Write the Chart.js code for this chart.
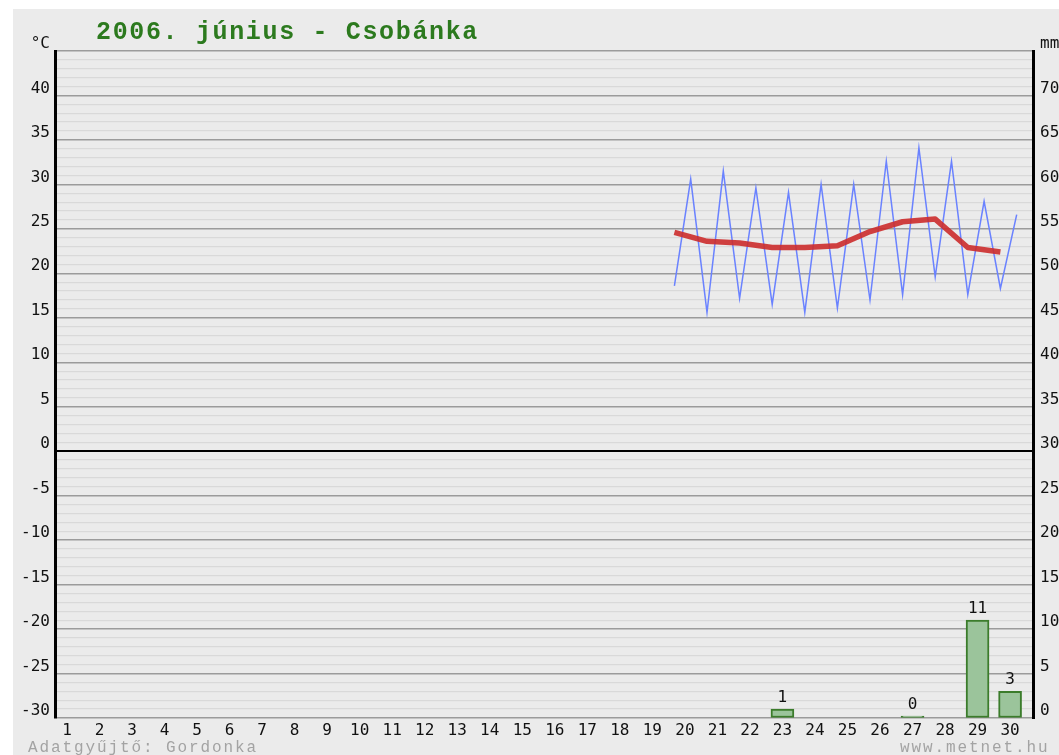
<!DOCTYPE html>
<html>
<head>
<meta charset="utf-8">
<title>2006. június - Csobánka</title>
<script src="https://cdn.jsdelivr.net/npm/chart.js@4/dist/chart.umd.min.js"></script>
<style>
  html, body { margin: 0; padding: 0; background: #fff; }
  canvas { display: block; }
</style>
</head>
<body>
<canvas id="c" width="1059" height="755"></canvas>
<script>
// Days of the month shown on the horizontal axis
const monthDays = [1, 2, 3, 4, 5, 6, 7, 8, 9, 10, 11, 12, 13, 14, 15,
                   16, 17, 18, 19, 20, 21, 22, 23, 24, 25, 26, 27, 28, 29, 30];

// Daily temperatures (°C) for the days that have readings
const tempDays = [20, 21, 22, 23, 24, 25, 26, 27, 28, 29, 30];
const tempMin  = [18.6, 15.6, 17.2, 16.5, 15.6, 16.1, 17.0, 17.6, 19.6, 17.6, 18.3];
const tempMax  = [30.6, 31.5, 29.6, 29.1, 30.0, 30.0, 32.6, 34.1, 32.6, 28.1, 26.6];
const tempMean = [24.6, 23.6, 23.4, 22.9, 22.9, 23.1, 24.7, 25.8, 26.1, 22.9, 22.4];

// Daily precipitation (mm)
const rainDays = [23, 27, 29, 30];
const rainMm   = [1, 0, 11, 3];

// Axis ranges
const tempRange = [-30, 45];
const rainRange = [0, 75];

// Min (night) and max (afternoon) alternate along the temperature trace
const tempTrace = [];
tempDays.forEach((d, i) => {
  tempTrace.push({ x: d - 0.5, y: tempMin[i] });
  tempTrace.push({ x: d, y: tempMax[i] });
});
const meanTrace = tempDays.map((d, i) => ({ x: d - 0.5, y: tempMean[i] }));
const rainBars = rainDays.map((d, i) => ({ x: d, y: rainMm[i] }));

const tickFont = { family: 'DejaVu Sans Mono', size: 16 };

const pagePlugin = {
  id: 'page',
  beforeDraw(chart) {
    const ctx = chart.ctx;
    ctx.save();
    ctx.fillStyle = '#ffffff';
    ctx.fillRect(0, 0, chart.width, chart.height);
    ctx.fillStyle = '#ebebeb';
    ctx.fillRect(13, 9, chart.width - 13, chart.height - 9);
    ctx.restore();
  },
  afterDraw(chart) {
    const ctx = chart.ctx;
    ctx.save();
    ctx.textAlign = 'left';
    ctx.textBaseline = 'alphabetic';
    // heading
    ctx.letterSpacing = '1.65px';
    ctx.font = 'bold 25px "Liberation Mono"';
    ctx.fillStyle = '#2c7a1e';
    ctx.fillText('2006. június - Csobánka', 96, 39);
    // footer
    ctx.letterSpacing = '1.9px';
    ctx.font = '16px "Liberation Mono"';
    ctx.fillStyle = '#a3a3a3';
    ctx.fillText('Adatgyűjtő: Gordonka', 28, 752);
    ctx.fillText('www.metnet.hu', 900, 752);
    ctx.restore();
  },
  afterDatasetsDraw(chart) {
    // precipitation amounts above the bars
    const ctx = chart.ctx;
    const meta = chart.getDatasetMeta(2);
    ctx.save();
    ctx.font = '16px "DejaVu Sans Mono"';
    ctx.fillStyle = '#111';
    ctx.textAlign = 'center';
    ctx.textBaseline = 'bottom';
    meta.data.forEach((el, i) => {
      ctx.fillText(String(rainMm[i]), el.x, el.y - 3);
    });
    ctx.restore();
  }
};

new Chart(document.getElementById('c'), {
  data: {
    datasets: [
      {
        type: 'line',
        label: 'Napi középhőmérséklet',
        data: meanTrace,
        xAxisID: 'xl',
        yAxisID: 'y',
        borderColor: 'rgba(204, 44, 44, 0.9)',
        borderWidth: 5.5,
        pointRadius: 0,
        tension: 0,
        borderJoinStyle: 'round'
      },
      {
        type: 'line',
        label: 'Hőmérséklet',
        data: tempTrace,
        xAxisID: 'xl',
        yAxisID: 'y',
        borderColor: '#6a82ff',
        borderWidth: 1.5,
        pointRadius: 0,
        tension: 0
      },
      {
        type: 'bar',
        label: 'Csapadék',
        data: rainBars,
        xAxisID: 'x',
        yAxisID: 'y2',
        grouped: false,
        backgroundColor: '#9bc49b',
        borderColor: '#3b7c2b',
        borderWidth: 2,
        borderSkipped: false,
        barThickness: 23,
        minBarLength: 2
      }
    ]
  },
  options: {
    responsive: false,
    animation: false,
    events: [],
    layout: { padding: { top: 51, left: 0, right: 0, bottom: 0 } },
    plugins: {
      legend: { display: false },
      tooltip: { enabled: false }
    },
    scales: {
      x: {
        type: 'linear',
        position: 'bottom',
        offset: false,
        min: 0.631,
        max: 30.705,
        afterBuildTicks(scale) { scale.ticks = monthDays.map(d => ({ value: d })); },
        afterFit(scale) { scale.height = 37; },
        grid: { display: false, offset: false, drawTicks: false },
        border: { display: false },
        ticks: {
          autoSkip: false,
          maxRotation: 0,
          padding: 3,
          font: tickFont,
          color: '#111',
          callback: v => String(v)
        }
      },
      xl: {
        type: 'linear',
        position: 'bottom',
        offset: false,
        min: 0.5,
        max: 30.5,
        display: false
      },
      y: {
        type: 'linear',
        position: 'left',
        min: tempRange[0],
        max: tempRange[1],
        afterFit(scale) { scale.width = 55; },
        ticks: {
          stepSize: 1,
          autoSkip: false,
          padding: 5,
          labelOffset: -7,
          font: tickFont,
          color: '#111',
          callback: v => (v === tempRange[1] ? '°C' : (v % 5 === 0 ? String(v) : ''))
        },
        grid: {
          drawTicks: false,
          color: c => {
            const v = c.tick.value;
            if (v === 0) return '#000';
            return v % 5 === 0 ? '#9b9b9b' : '#d9d9d9';
          },
          lineWidth: c => {
            const v = c.tick.value;
            if (v === 0) return 2;
            return v % 5 === 0 ? 1.5 : 1.3;
          }
        },
        border: { color: '#000', width: 3 }
      },
      y2: {
        type: 'linear',
        position: 'right',
        min: rainRange[0],
        max: rainRange[1],
        afterFit(scale) { scale.width = 26; },
        ticks: {
          stepSize: 5,
          autoSkip: false,
          padding: 7,
          labelOffset: -7,
          font: tickFont,
          color: '#111',
          callback: v => (v === rainRange[1] ? 'mm' : String(v))
        },
        grid: { drawOnChartArea: false, drawTicks: false },
        border: { color: '#000', width: 3 }
      }
    }
  },
  plugins: [pagePlugin]
});
</script>
</body>
</html>
